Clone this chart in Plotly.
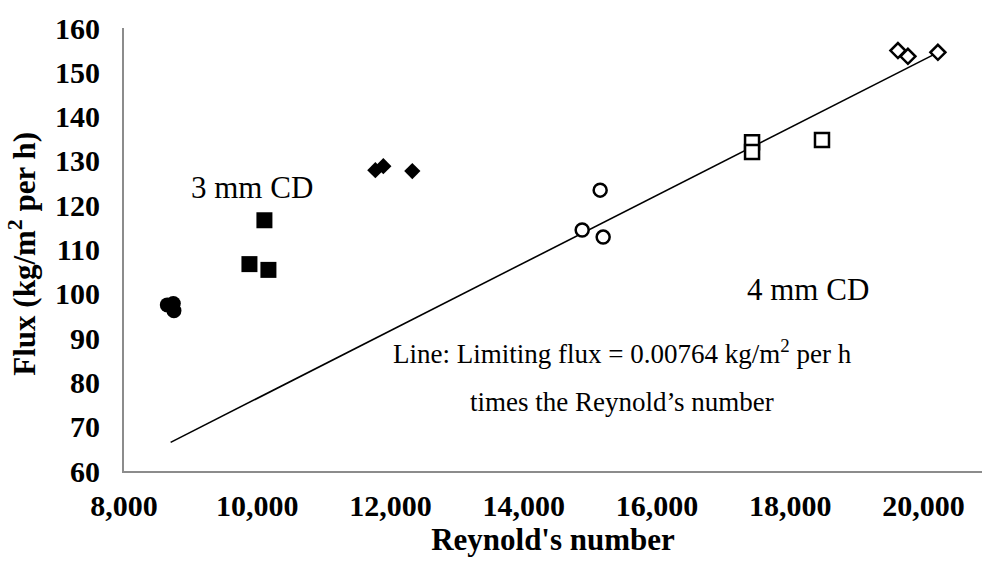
import plotly.graph_objects as go

# Flux vs Reynold's number, grouped by channel depth / run
re_3mm_circle = [8650, 8740, 8750]
flux_3mm_circle = [97.5, 97.8, 96.2]

re_3mm_square = [10108, 9883, 10168]
flux_3mm_square = [116.6, 106.7, 105.4]

re_3mm_diamond = [11773, 11893, 12328]
flux_3mm_diamond = [127.9, 128.8, 127.7]

re_4mm_circle = [15148, 14878, 15193]
flux_4mm_circle = [123.4, 114.4, 112.8]

re_4mm_square = [17428, 17428, 18478]
flux_4mm_square = [134.2, 132.0, 134.7]

re_4mm_diamond = [19618, 19768, 20218]
flux_4mm_diamond = [154.9, 153.6, 154.5]

# Limiting flux line: 0.00764 kg/m2 per h times the Reynold's number
limit_slope = 0.00764
limit_re = [8700, 20200]
limit_flux = [limit_slope * r for r in limit_re]

x_ticks = [8000, 10000, 12000, 14000, 16000, 18000, 20000]
y_ticks = [60, 70, 80, 90, 100, 110, 120, 130, 140, 150, 160]

SERIF = "Liberation Serif, Times New Roman, serif"

fig = go.Figure()

fig.add_trace(go.Scatter(x=limit_re, y=limit_flux, mode="lines",
                         line=dict(color="black", width=1.6), showlegend=False))

def add_points(xs, ys, symbol, size, filled):
    fig.add_trace(go.Scatter(
        x=xs, y=ys, mode="markers", showlegend=False,
        marker=dict(symbol=symbol, size=size,
                    color="black" if filled else "white",
                    line=dict(color="black", width=0 if filled else 2.5)),
    ))

add_points(re_3mm_circle, flux_3mm_circle, "circle", 15, True)
add_points(re_3mm_square, flux_3mm_square, "square", 16, True)
add_points(re_3mm_diamond, flux_3mm_diamond, "diamond", 12.5, True)
add_points(re_4mm_circle, flux_4mm_circle, "circle", 13, False)
add_points(re_4mm_square, flux_4mm_square, "square", 14, False)
add_points(re_4mm_diamond, flux_4mm_diamond, "diamond", 11.5, False)

ann_font = dict(family=SERIF, size=27, color="black")
cd_font = dict(family=SERIF, size=31, color="black")
fig.add_annotation(x=9928, y=124.1, text="3 mm CD", showarrow=False, font=cd_font)
fig.add_annotation(x=18268, y=100.9, text="4 mm CD", showarrow=False, font=cd_font)
fig.add_annotation(x=15478, y=86.9, showarrow=False, font=ann_font,
                   text="Line: Limiting flux = 0.00764 kg/m<sup>2</sup> per h")
fig.add_annotation(x=15478, y=75.6, showarrow=False, font=ann_font,
                   text="times the Reynold\u2019s number")

# Rotated y-axis title placed at the far left of the figure
fig.add_annotation(xref="paper", yref="paper", x=-0.118, y=0.49,
                   xanchor="center", yanchor="middle", textangle=-90,
                   showarrow=False, text="<b>Flux (kg/m<sup>2</sup> per h)</b>",
                   font=dict(family=SERIF, size=31, color="black"))

axis_common = dict(
    showgrid=False, zeroline=False, ticks="",
    showline=True, linecolor="#8c8c8c", linewidth=2,
    tickfont=dict(family=SERIF, size=30, color="black", weight="bold"),
)

fig.update_xaxes(
    range=[8000, 20880], tickvals=x_ticks,
    ticktext=[f"{v:,}" for v in x_ticks],
    ticklabelstandoff=7,
    title=dict(text="Reynold's number", standoff=7,
               font=dict(family=SERIF, size=31, color="black", weight="bold")),
    **axis_common,
)
fig.update_yaxes(
    range=[60, 160], tickvals=y_ticks,
    ticklabelstandoff=16,
    **axis_common,
)

fig.update_layout(
    width=982, height=565,
    margin=dict(l=124, r=0, t=28, b=94),
    plot_bgcolor="white", paper_bgcolor="white",
)

fig.write_html("out.html")
